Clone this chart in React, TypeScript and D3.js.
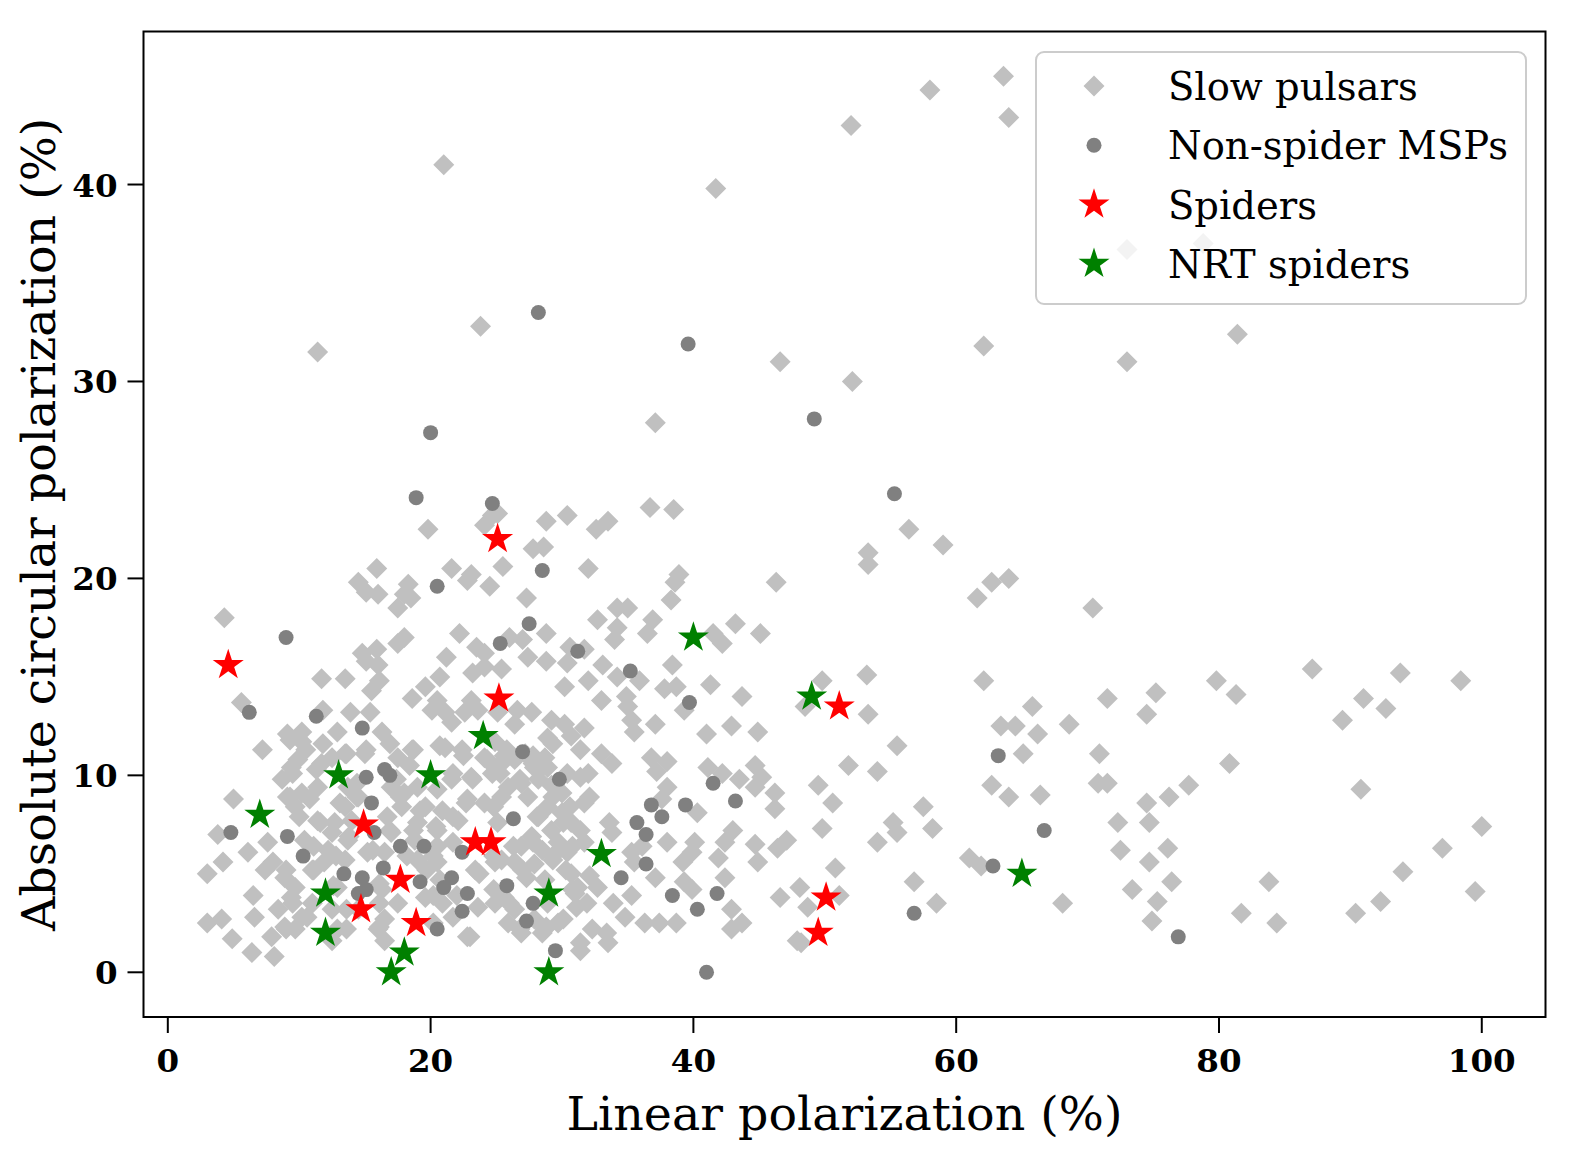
import React, { useRef, useEffect } from 'react'
import * as d3 from 'd3'

// [linear %, |circular| %]
const slowPulsars: [number, number][] = [
  // sparse upper part
  [21.0, 41.0], [41.7, 39.8], [52.0, 43.0], [23.8, 32.8], [11.4, 31.5], [46.6, 31.0],
  [52.1, 30.0], [62.1, 31.8], [37.1, 27.9], [63.6, 45.5], [64.0, 43.4], [58.0, 44.8],
  [73.0, 36.7], [78.8, 37.0], [81.4, 32.4], [73.0, 31.0],
  // right half
  [56.4, 22.5], [59.0, 21.7], [53.3, 21.3], [53.3, 20.7], [62.7, 19.8], [64.0, 20.0],
  [61.6, 19.0], [70.4, 18.5], [49.8, 14.8], [53.2, 15.1], [62.1, 14.8], [53.3, 13.1],
  [48.5, 13.5], [65.8, 13.5], [71.5, 13.9], [75.2, 14.2], [74.5, 13.1], [63.4, 12.5],
  [64.5, 12.5], [66.2, 12.1], [68.6, 12.6], [55.5, 11.5], [51.8, 10.5], [54.0, 10.2],
  [65.1, 11.1], [70.9, 11.1], [49.5, 9.5], [50.6, 8.6], [62.7, 9.5], [64.0, 8.9],
  [66.4, 9.0], [70.8, 9.6], [71.5, 9.6], [57.5, 8.4], [74.5, 8.6], [55.2, 7.6],
  [55.5, 7.1], [58.2, 7.3], [49.8, 7.3], [54.0, 6.6], [72.3, 7.6], [74.7, 7.6],
  [61.0, 5.8], [61.9, 5.4], [72.5, 6.2], [74.7, 5.6], [50.8, 5.3], [56.8, 4.6],
  [51.1, 3.9], [48.1, 4.3], [48.7, 3.3], [58.5, 3.5], [68.1, 3.5], [73.4, 4.2],
  [75.3, 3.6], [74.9, 2.6], [48.2, 1.5],
  [79.8, 14.8], [81.3, 14.1], [87.1, 15.4], [93.8, 15.2], [98.4, 14.8], [91.0, 13.9],
  [92.7, 13.4], [89.4, 12.8], [80.8, 10.6], [77.7, 9.5], [76.2, 8.9], [90.8, 9.3],
  [100.0, 7.4], [97.0, 6.3], [76.1, 6.3], [76.4, 4.6], [83.8, 4.6], [94.0, 5.1],
  [81.7, 3.0], [84.4, 2.5], [90.4, 3.0], [92.3, 3.6], [99.5, 4.1],
  // upper left of the cluster
  [19.8, 22.5], [24.1, 22.7], [24.7, 23.2], [15.9, 20.5], [21.6, 20.5], [23.1, 20.2],
  [22.8, 19.9], [25.5, 20.6], [24.5, 19.6], [14.5, 19.8], [15.1, 19.3], [16.0, 19.2],
  [18.3, 19.7], [18.0, 19.2], [18.5, 19.0], [17.5, 18.5], [4.3, 18.0], [22.2, 17.2],
  [18.0, 17.0], [17.5, 16.7], [14.8, 16.2], [15.9, 16.4], [15.1, 15.8], [16.0, 15.6],
  [21.2, 16.0], [23.5, 16.5], [24.1, 16.2], [23.2, 15.2], [24.1, 15.5], [11.7, 14.9],
  [13.5, 14.9], [16.1, 14.8], [15.5, 14.3], [20.7, 15.0], [19.6, 14.5], [18.6, 13.9],
  [20.5, 13.8], [20.1, 13.3], [21.1, 13.2], [21.6, 12.7], [23.1, 13.8], [22.6, 13.2],
  [23.6, 13.3], [5.6, 13.7], [11.8, 13.3], [13.9, 13.2], [15.4, 13.2], [12.9, 12.2],
  [9.1, 12.1], [10.2, 12.2], [16.3, 12.2], [25.1, 13.2],
  // upper right of the cluster
  [36.7, 23.6], [38.5, 23.5], [28.8, 22.9], [30.4, 23.2], [32.6, 22.5], [33.5, 22.9],
  [25.1, 23.3], [27.8, 21.5], [28.6, 21.6], [32.0, 20.5], [38.9, 20.2], [38.6, 19.8],
  [46.3, 19.8], [38.3, 18.9], [27.3, 19.0], [34.2, 18.5], [35.0, 18.5], [32.7, 17.9],
  [34.2, 17.5], [36.9, 17.9], [36.5, 17.2], [34.0, 16.9], [43.2, 17.7], [45.1, 17.2],
  [41.5, 17.2], [42.2, 16.7], [28.8, 17.2], [26.0, 17.0], [27.0, 16.9], [30.6, 16.5],
  [31.7, 16.4], [27.4, 16.0], [28.8, 15.8], [25.4, 15.4], [30.4, 15.7], [33.1, 15.6],
  [38.4, 15.6], [32.0, 14.8], [30.2, 14.5], [34.2, 15.0], [35.9, 14.8], [37.8, 14.4],
  [38.7, 14.5], [41.3, 14.6], [43.7, 14.0], [33.0, 13.8], [34.9, 14.0], [35.0, 13.5],
  [26.6, 13.3], [27.7, 13.2], [39.3, 13.3], [26.4, 12.6], [29.2, 12.8], [30.2, 12.6],
  [31.7, 12.4], [35.3, 12.8], [37.1, 12.6], [41.0, 12.1], [42.9, 12.5], [44.9, 12.2],
  [30.7, 12.0],
  // lower right of the cluster
  [35.5, 12.2], [28.9, 11.9], [25.6, 11.0], [27.8, 10.6], [28.9, 10.4], [30.4, 10.1],
  [32.0, 10.1], [33.0, 11.1], [33.8, 10.6], [36.8, 10.9], [38.0, 10.7], [37.2, 10.2],
  [38.0, 9.4], [37.6, 8.8], [41.1, 10.4], [42.2, 10.1], [43.5, 9.8], [44.7, 10.5],
  [45.2, 9.9], [44.7, 9.4], [46.2, 9.1], [46.2, 8.3], [31.7, 8.6], [40.3, 8.1],
  [43.0, 7.2], [42.4, 6.6], [41.9, 5.8], [47.1, 6.7], [46.4, 6.3], [44.7, 6.5],
  [44.9, 5.6], [33.6, 7.6], [33.8, 7.1], [38.0, 6.6], [40.1, 6.6], [39.9, 6.1],
  [39.2, 5.6], [35.3, 6.1], [36.1, 6.4], [35.5, 5.6], [37.1, 4.8], [39.3, 4.6],
  [39.9, 4.2], [42.4, 4.8], [32.7, 4.3], [35.3, 3.9], [31.0, 4.0], [31.1, 3.3],
  [33.9, 3.5], [34.8, 2.8], [36.3, 2.5], [37.4, 2.5], [38.7, 2.5], [42.9, 3.2],
  [43.7, 2.5], [42.9, 2.2], [29.7, 2.5], [32.3, 2.2], [33.4, 2.0], [33.5, 1.5],
  [31.4, 1.1], [26.9, 2.0], [28.5, 2.0], [47.9, 1.6], [46.6, 3.8],
  [24.9, 11.7], [25.4, 10.6], [26.4, 10.8], [27.2, 11.1], [27.9, 10.4], [28.7, 10.9],
  [28.2, 9.8], [26.9, 9.6], [25.9, 9.4], [27.4, 8.9], [29.2, 9.5], [30.0, 9.1],
  [28.9, 8.4], [28.2, 7.9], [30.0, 8.1], [30.7, 7.6], [29.2, 7.2], [27.7, 6.9],
  [26.9, 6.4], [28.5, 6.2], [29.7, 6.6], [30.4, 6.1], [29.3, 5.7], [27.9, 5.5],
  [26.4, 5.6], [25.4, 5.7], [27.3, 4.8], [28.7, 4.7], [25.6, 3.8], [26.4, 3.2],
  [27.9, 2.7], [28.7, 2.2], [25.9, 2.5], [31.2, 4.3], [30.7, 5.0], [31.7, 6.6],
  [28.9, 3.5],
  // lower left of the cluster
  [7.2, 11.3], [10.2, 11.7], [5.0, 8.8], [3.8, 7.0], [4.2, 5.6], [3.0, 5.0],
  [3.0, 2.5], [4.1, 2.7], [4.9, 1.7], [6.4, 1.0], [8.1, 0.8], [7.9, 1.8],
  [6.5, 3.9], [6.6, 2.8], [8.4, 3.2], [8.9, 2.3], [9.4, 3.8], [7.4, 5.2],
  [8.0, 5.6], [6.1, 6.1], [7.6, 6.6], [8.7, 9.8], [9.4, 10.4], [9.9, 10.8],
  [11.7, 10.6], [12.5, 10.9], [13.5, 11.1], [15.0, 11.1], [17.5, 10.9], [18.6, 11.3],
  [21.1, 11.4], [22.4, 11.3], [24.1, 10.9], [9.1, 8.9], [10.2, 9.1], [11.4, 9.4],
  [9.7, 8.4], [11.4, 7.7], [10.4, 6.7], [8.9, 4.8], [9.7, 4.3], [11.0, 5.2],
  [12.2, 6.2], [11.9, 5.6], [10.2, 2.8], [11.0, 3.5], [9.7, 2.2], [12.5, 3.2],
  [12.9, 2.2], [14.5, 3.2], [16.0, 2.2], [16.5, 2.7], [13.7, 9.4], [13.5, 8.4],
  [14.5, 8.9], [12.7, 7.6], [14.0, 7.7], [13.7, 6.7], [12.5, 7.1], [13.5, 5.7],
  [15.2, 6.1], [16.5, 6.1], [17.0, 7.1], [16.7, 7.9], [17.8, 8.4], [18.0, 9.1],
  [17.0, 9.4], [19.0, 9.4], [20.5, 9.3], [21.6, 9.8], [23.1, 9.9], [24.7, 10.1],
  [22.8, 8.8], [24.1, 8.6], [25.4, 8.9], [19.6, 8.4], [20.9, 8.2], [19.0, 7.6],
  [20.5, 7.2], [22.1, 7.7], [25.1, 7.6], [18.8, 6.7], [20.5, 6.4], [19.0, 5.7],
  [20.5, 5.6], [23.4, 5.2], [24.9, 5.6], [24.9, 3.5], [23.6, 3.3], [20.9, 3.5],
  [19.6, 3.8], [16.3, 4.2], [17.5, 3.5], [12.9, 4.3], [22.8, 1.8], [16.5, 1.6],
  [12.5, 1.6],
  // densest core, 9-32 %
  [9.3, 11.8], [10.5, 11.3], [11.8, 11.6], [13.6, 11.1], [15.1, 11.3], [16.9, 11.6],
  [18.7, 11.3], [20.7, 11.5], [22.5, 11.0], [24.3, 10.8], [25.8, 11.3], [27.8, 11.0],
  [29.3, 11.6], [31.4, 11.3], [9.5, 10.1], [11.3, 10.3], [14.4, 9.6], [17.4, 9.8],
  [18.4, 10.5], [21.7, 10.1], [23.2, 9.8], [25.3, 10.1], [26.8, 9.8], [28.3, 10.3],
  [31.4, 9.9], [9.3, 8.9], [10.8, 8.8], [13.1, 8.6], [14.4, 8.9], [17.7, 8.9],
  [19.2, 8.2], [22.7, 8.6], [24.8, 8.4], [29.3, 8.9], [30.6, 8.4], [32.1, 8.9],
  [10.0, 7.9], [11.6, 7.6], [13.8, 6.9], [16.9, 7.2], [18.7, 7.2], [20.4, 7.4],
  [21.7, 7.9], [28.1, 7.9], [30.1, 7.6], [31.4, 7.2], [11.1, 6.4], [12.8, 5.9],
  [15.6, 6.2], [18.2, 5.9], [20.2, 5.9], [21.7, 6.6], [24.8, 5.9], [26.3, 6.4],
  [27.8, 6.6], [29.3, 5.9], [30.8, 6.4], [9.0, 5.2], [11.1, 5.2], [12.6, 4.4],
  [16.1, 4.5], [19.7, 5.2], [20.7, 4.7], [23.7, 5.0], [27.0, 5.2], [30.3, 5.2],
  [32.1, 4.9], [9.5, 3.5], [10.6, 2.8], [13.6, 3.2], [16.1, 3.5], [20.2, 3.9],
  [22.0, 3.9], [24.8, 4.2], [26.0, 3.5], [30.8, 4.2], [31.9, 3.5], [9.0, 2.2],
  [13.6, 2.2], [16.1, 2.3], [20.2, 2.5], [21.7, 2.8], [26.8, 2.2], [28.8, 2.3],
  [30.1, 2.7], [31.4, 1.5], [23.0, 1.8]
]

const nonSpiderMSPs: [number, number][] = [
  [28.2, 33.5], [39.6, 31.9], [49.2, 28.1], [20.0, 27.4], [18.9, 24.1], [24.7, 23.8],
  [55.3, 24.3], [28.5, 20.4], [20.5, 19.6], [9.0, 17.0], [27.5, 17.7], [25.3, 16.7],
  [31.2, 16.3], [35.2, 15.3], [39.7, 13.7], [6.2, 13.2], [11.3, 13.0], [14.8, 12.4],
  [63.2, 11.0], [66.7, 7.2], [62.8, 5.4], [56.8, 3.0], [76.9, 1.8],
  [27.0, 11.2], [29.8, 9.8], [41.5, 9.6], [43.2, 8.7], [36.8, 8.5], [37.6, 7.9],
  [39.4, 8.5], [26.3, 7.8], [35.7, 7.6], [36.4, 7.0], [36.4, 5.5], [34.5, 4.8],
  [25.8, 4.4], [27.8, 3.5], [27.3, 2.6], [38.4, 3.9], [41.8, 4.0], [40.3, 3.2],
  [29.5, 1.1], [41.0, 0.0],
  [16.5, 10.3], [16.9, 10.0], [15.1, 9.9], [15.5, 8.6], [4.8, 7.1], [9.1, 6.9],
  [10.3, 5.9], [15.7, 7.1], [17.7, 6.4], [19.5, 6.4], [22.4, 6.1], [13.4, 5.0],
  [14.8, 4.8], [16.4, 5.3], [19.2, 4.6], [15.1, 4.2], [14.5, 4.0], [21.0, 4.3],
  [21.6, 4.8], [22.8, 4.0], [22.4, 3.1], [20.5, 2.2]
]

const spiders: [number, number][] = [
  [4.6, 15.6], [25.1, 22.0], [25.2, 13.9], [14.9, 7.5], [23.4, 6.6], [24.6, 6.6],
  [17.7, 4.7], [14.7, 3.2], [18.9, 2.5], [51.1, 13.5], [50.1, 3.8], [49.5, 2.0]
]

const nrtSpiders: [number, number][] = [
  [40, 17], [49, 14], [24, 12], [13, 10], [20, 10], [7, 8], [33, 6],
  [12, 4], [29, 4], [12, 2], [18, 1], [17, 0], [29, 0], [65, 5]
]

const xTicks = [0, 20, 40, 60, 80, 100]
const yTicks = [0, 10, 20, 30, 40]

const legendItems = [
  { label: 'Slow pulsars', kind: 'diamond' },
  { label: 'Non-spider MSPs', kind: 'circle' },
  { label: 'Spiders', kind: 'starRed' },
  { label: 'NRT spiders', kind: 'starGreen' }
]

const FONT = '"DejaVu Serif", serif'

// marker outlines
const diamond = (r: number) => `M0,${-r}L${r},0L0,${r}L${-r},0Z`
const star = (R: number) => {
  const pts: string[] = []
  for (let i = 0; i < 10; i++) {
    const rr = i % 2 === 0 ? R : R * 0.381966
    const a = -Math.PI / 2 + (i * Math.PI) / 5
    pts.push(`${(rr * Math.cos(a)).toFixed(2)},${(rr * Math.sin(a)).toFixed(2)}`)
  }
  return 'M' + pts.join('L') + 'Z'
}

const App: React.FC = () => {
  const svgRef = useRef<SVGSVGElement>(null)
  const width = 1578
  const height = 1154

  useEffect(() => {
    if (!svgRef.current) return
    const svg = d3.select(svgRef.current)
    svg.selectAll('*').remove()

    const x = d3.scaleLinear().domain([-1.85, 104.85]).range([143.5, 1545.5])
    const y = d3.scaleLinear().domain([-2.27, 47.77]).range([1017, 31.5])
    const [x0, x1] = x.range()
    const [y0, y1] = y.range()

    svg.append('rect').attr('width', width).attr('height', height).attr('fill', '#fff')

    const marks = svg.append('g')

    // 慢脈衝星
    marks.append('g').selectAll('path')
      .data(slowPulsars)
      .enter().append('path')
      .attr('d', diamond(10.5))
      .attr('transform', d => `translate(${x(d[0])},${y(d[1])})`)
      .attr('fill', '#c0c0c0')

    marks.append('g').selectAll('circle')
      .data(nonSpiderMSPs)
      .enter().append('circle')
      .attr('cx', d => x(d[0]))
      .attr('cy', d => y(d[1]))
      .attr('r', 7.5)
      .attr('fill', '#808080')

    marks.append('g').selectAll('path')
      .data(spiders)
      .enter().append('path')
      .attr('d', star(16.3))
      .attr('transform', d => `translate(${x(d[0])},${y(d[1])})`)
      .attr('fill', '#ff0000')

    marks.append('g').selectAll('path')
      .data(nrtSpiders)
      .enter().append('path')
      .attr('d', star(16.3))
      .attr('transform', d => `translate(${x(d[0])},${y(d[1])})`)
      .attr('fill', '#008000')

    // 軸框
    svg.append('rect')
      .attr('x', x0).attr('y', y1)
      .attr('width', x1 - x0).attr('height', y0 - y1)
      .attr('fill', 'none')
      .attr('stroke', '#000')
      .attr('stroke-width', 2)

    const tickLen = 16
    const xt = svg.append('g')
    xt.selectAll('line').data(xTicks).enter().append('line')
      .attr('x1', d => x(d)).attr('x2', d => x(d))
      .attr('y1', y0).attr('y2', y0 + tickLen)
      .attr('stroke', '#000').attr('stroke-width', 2)
    xt.selectAll('text').data(xTicks).enter().append('text')
      .text(d => d)
      .attr('x', d => x(d))
      .attr('y', y0 + tickLen + 39)
      .attr('text-anchor', 'middle')
      .attr('font-family', FONT)
      .attr('font-weight', 'bold')
      .attr('font-size', 32.5)

    const yt = svg.append('g')
    yt.selectAll('line').data(yTicks).enter().append('line')
      .attr('x1', x0 - tickLen).attr('x2', x0)
      .attr('y1', d => y(d)).attr('y2', d => y(d))
      .attr('stroke', '#000').attr('stroke-width', 2)
    yt.selectAll('text').data(yTicks).enter().append('text')
      .text(d => d)
      .attr('x', x0 - tickLen - 10)
      .attr('y', d => y(d) + 12)
      .attr('text-anchor', 'end')
      .attr('font-family', FONT)
      .attr('font-weight', 'bold')
      .attr('font-size', 32.5)

    svg.append('text')
      .text('Linear polarization (%)')
      .attr('x', (x0 + x1) / 2)
      .attr('y', 1130)
      .attr('text-anchor', 'middle')
      .attr('font-family', FONT)
      .attr('font-size', 47.5)

    svg.append('text')
      .text('Absolute circular polarization (%)')
      .attr('transform', `translate(55, ${(y0 + y1) / 2}) rotate(-90)`)
      .attr('text-anchor', 'middle')
      .attr('font-family', FONT)
      .attr('font-size', 47.5)

    // 圖例
    const lg = svg.append('g')
    lg.append('rect')
      .attr('x', 1036).attr('y', 52)
      .attr('width', 490).attr('height', 252)
      .attr('rx', 8)
      .attr('fill', '#fff').attr('fill-opacity', 0.8)
      .attr('stroke', '#cccccc').attr('stroke-width', 2)

    const row = lg.selectAll('g.item')
      .data(legendItems)
      .enter().append('g')
      .attr('class', 'item')
      .attr('transform', (d, i) => `translate(1094, ${86 + i * 59.3})`)

    row.each(function (d) {
      const g = d3.select(this)
      if (d.kind === 'diamond') {
        g.append('path').attr('d', diamond(10.5)).attr('fill', '#c0c0c0')
      } else if (d.kind === 'circle') {
        g.append('circle').attr('r', 7.5).attr('fill', '#808080')
      } else {
        g.append('path').attr('d', star(16.3))
          .attr('fill', d.kind === 'starRed' ? '#ff0000' : '#008000')
      }
    })

    row.append('text')
      .text(d => d.label)
      .attr('x', 74)
      .attr('y', 14)
      .attr('font-family', FONT)
      .attr('font-size', 38.5)
  }, [])

  return (
    <div style={{ position: 'absolute', left: 0, top: 0 }}>
      <svg ref={svgRef} width={width} height={height} />
    </div>
  )
}

export default App
